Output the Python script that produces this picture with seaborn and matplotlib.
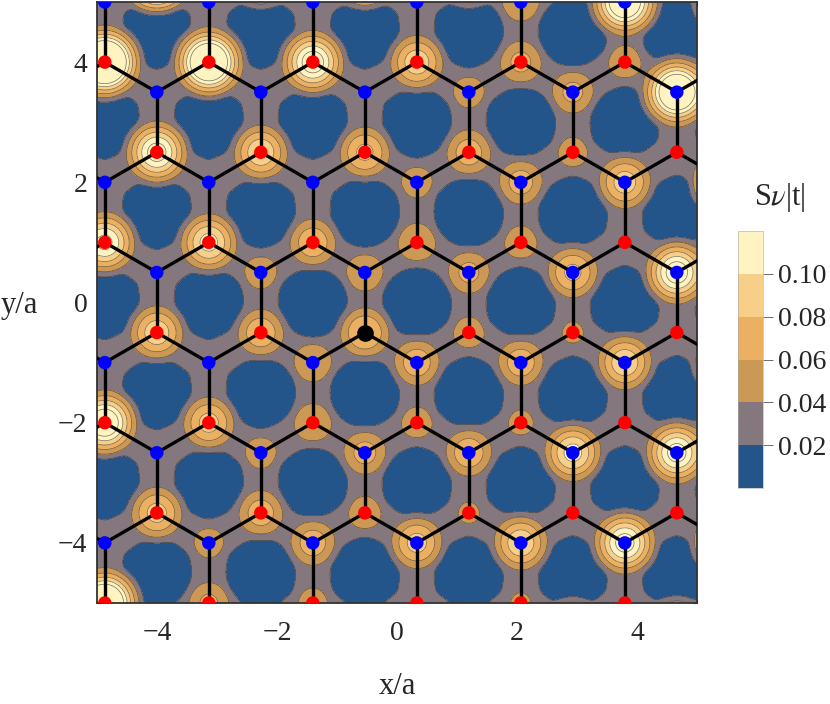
import numpy as np
import pandas as pd
import matplotlib
matplotlib.use("Agg")
import matplotlib.pyplot as plt
from matplotlib.ticker import MultipleLocator
import seaborn as sns

# column index -> x position (lattice column spacing)
x_origin = -4.87
x_step = 0.8667

row_y = [5.5, 5.0, 4.0, 3.5, 2.5, 2.0, 1.0, 0.5, -0.5, -1.0, -2.0, -2.5, -3.5, -4.0, -5.0, -5.5]
row_kind = ["red", "blue", "red", "blue", "red", "blue", "red", "blue",
            "red", "blue", "red", "blue", "red", "blue", "red", "blue"]
row_start = [-1, 0, 0, -1, -1, 0, 0, -1, -1, 0, 0, -1, -1, 0, 0, -1]
row_amp = [
    [0.00, 0.332, 0.1686, 0.1848, 0.1552, 0.00, 0.00],
    [0.00, 0.00, 0.00, 0.00, 0.0614, 0.1686, 0.17],
    [0.2226, 0.193, 0.1423, 0.0979, 0.0678, 0.0539, 0.00],
    [0.00, 0.00, 0.00, 0.00, 0.0519, 0.0678, 0.1848],
    [0.00, 0.1368, 0.1013, 0.0884, 0.0739, 0.0502, 0.00],
    [0.00, 0.00, 0.00, 0.0519, 0.0716, 0.0947, 0.2226],
    [0.1312, 0.1127, 0.0782, 0.0614, 0.0539, 0.00, 0.00],
    [0.00, 0.00, 0.0535, 0.0599, 0.0678, 0.0884, 0.1423],
    [0.00, 0.0979, 0.0782, 0.0857, 0.0519, 0.0427, 0.00],
    [0.00, 0.00, 0.0614, 0.0757, 0.0757, 0.1013, 0.1848],
    [0.1552, 0.0914, 0.0614, 0.0519, 0.0457, 0.00, 0.00],
    [0.00, 0.00, 0.0519, 0.0698, 0.0782, 0.1127, 0.1368],
    [0.00, 0.0914, 0.0739, 0.0539, 0.0427, 0.00, 0.00],
    [0.00, 0.0502, 0.0739, 0.0914, 0.1013, 0.1368, 0.2024],
    [0.193, 0.0659, 0.0502, 0.00, 0.042, 0.00, 0.00],
    [0.00, 0.00, 0.00, 0.00, 0.00, 0.155, 0.1686],
]
impurity_x = -0.53
impurity_y = -0.5

contour_levels = [0.0, 0.02, 0.04, 0.06, 0.08, 0.10, 0.12]
band_colors = ["#24558A", "#84787E", "#CC9855", "#EBB062", "#F7CF88", "#FFF3C1"]
colorbar_ticks = [0.02, 0.04, 0.06, 0.08, 0.10]
axis_ticks = [-4, -2, 0, 2, 4]

rows = []
for y, kind, start, amps in zip(row_y, row_kind, row_start, row_amp):
    for i, amp in enumerate(amps):
        col = start + 2 * i
        rows.append({"x": x_origin + x_step * col, "y": y, "kind": kind, "amp": amp})
sites = pd.DataFrame(rows)

xy = sites[["x", "y"]].to_numpy()
d = np.hypot(xy[:, None, 0] - xy[None, :, 0], xy[:, None, 1] - xy[None, :, 1])
bonds = [(i, j) for i, j in zip(*np.where((d > 0.9) & (d < 1.1))) if i < j]

grid = np.linspace(-5, 5, 800)
X, Y = np.meshgrid(grid, grid)

# distance of every grid point to the nearest bond
d_bond = np.full_like(X, 9.0)
for i, j in bonds:
    p, q = xy[i], xy[j]
    v = q - p
    t = np.clip(((X - p[0]) * v[0] + (Y - p[1]) * v[1]) / (v @ v), 0, 1)
    d_bond = np.minimum(d_bond, np.hypot(X - p[0] - t * v[0], Y - p[1] - t * v[1]))

background = 0.025 * np.exp(-(d_bond / 0.38) ** 4)
halo4 = np.zeros_like(X)
for _, s in sites.iterrows():
    r2 = (X - s.x) ** 2 + (Y - s.y) ** 2
    background += 0.012 * np.exp(-r2 / 0.14)
    halo4 += (s.amp * np.exp(-r2 / 0.21)) ** 4
halo = halo4 ** 0.25
# halo tails drop quickly below the lowest orange contour
halo = np.where(halo >= 0.04, halo, 0.04 * (halo / 0.04) ** 2)
field = (background ** 4 + halo ** 4) ** 0.25

# slight smoothing keeps the contours free of kinks
kernel = np.exp(-0.5 * (np.arange(-12, 13) / 4.0) ** 2)
kernel /= kernel.sum()
padded = np.pad(field, 12, mode="edge")
padded = np.apply_along_axis(lambda a: np.convolve(a, kernel, mode="same"), 0, padded)
padded = np.apply_along_axis(lambda a: np.convolve(a, kernel, mode="same"), 1, padded)
field = padded[12:-12, 12:-12]

sns.set_theme(style="ticks")
plt.rcParams["font.family"] = ["Liberation Serif", "DejaVu Serif"]
plt.rcParams["mathtext.fontset"] = "stix"

fig = plt.figure(figsize=(8.3, 7.04), dpi=100)
W, H = 830, 704
ax = fig.add_axes([97 / W, (H - 603) / H, 600 / W, 601 / H])

cf = ax.contourf(X, Y, np.clip(field, 0.0001, 0.1199), levels=contour_levels, colors=band_colors)
ax.contour(X, Y, field, levels=contour_levels[1:], colors="#2b2b2b", linewidths=0.5, alpha=0.65)

for i, j in bonds:
    ax.plot(xy[[i, j], 0], xy[[i, j], 1], color="black", lw=2.4, zorder=3, solid_capstyle="round")

sns.scatterplot(data=sites, x="x", y="y", hue="kind", palette={"red": "#FF0000", "blue": "#0000FF"},
                s=94, linewidth=0, legend=False, ax=ax, zorder=4)
sns.scatterplot(x=[impurity_x], y=[impurity_y], color="black", s=144, linewidth=0, legend=False, ax=ax, zorder=5)

ax.set_xlim(-5, 5)
ax.set_ylim(-5, 5)
ax.set_xticks(axis_ticks)
ax.set_yticks(axis_ticks)
ax.xaxis.set_minor_locator(MultipleLocator(0.5))
ax.yaxis.set_minor_locator(MultipleLocator(0.5))
ax.tick_params(which="major", direction="in", length=6, width=1, top=True, right=True, labelsize=20, color="#222222", pad=13)
ax.tick_params(which="minor", direction="in", length=3, width=0.8, top=True, right=True, color="#222222")
ax.tick_params(axis="y", which="major", pad=7)
for sp in ax.spines.values():
    sp.set_linewidth(1.3)
    sp.set_color("#333333")
ax.set_xlabel("")
ax.set_ylabel("")
fig.text(397 / W, (H - 686) / H, "x/a", fontsize=22, ha="center", va="center")
fig.text(19 / W, (H - 306) / H, "y/a", fontsize=22, ha="center", va="center")

cax = fig.add_axes([738 / W, (H - 488) / H, 25 / W, 257 / H])
cb = fig.colorbar(cf, cax=cax, ticks=colorbar_ticks)
cb.ax.set_yticklabels([f"{v:.2f}" for v in colorbar_ticks])
cb.ax.tick_params(length=7, width=0.6, direction="out", labelsize=20, pad=4, color="#555555")
cb.outline.set_linewidth(0.4)
cb.outline.set_edgecolor("#aaaaaa")
fig.text(780 / W, (H - 198) / H, r"S$\nu$|t|", fontsize=22, ha="center", va="center")

fig.savefig("out.png", dpi=100)
